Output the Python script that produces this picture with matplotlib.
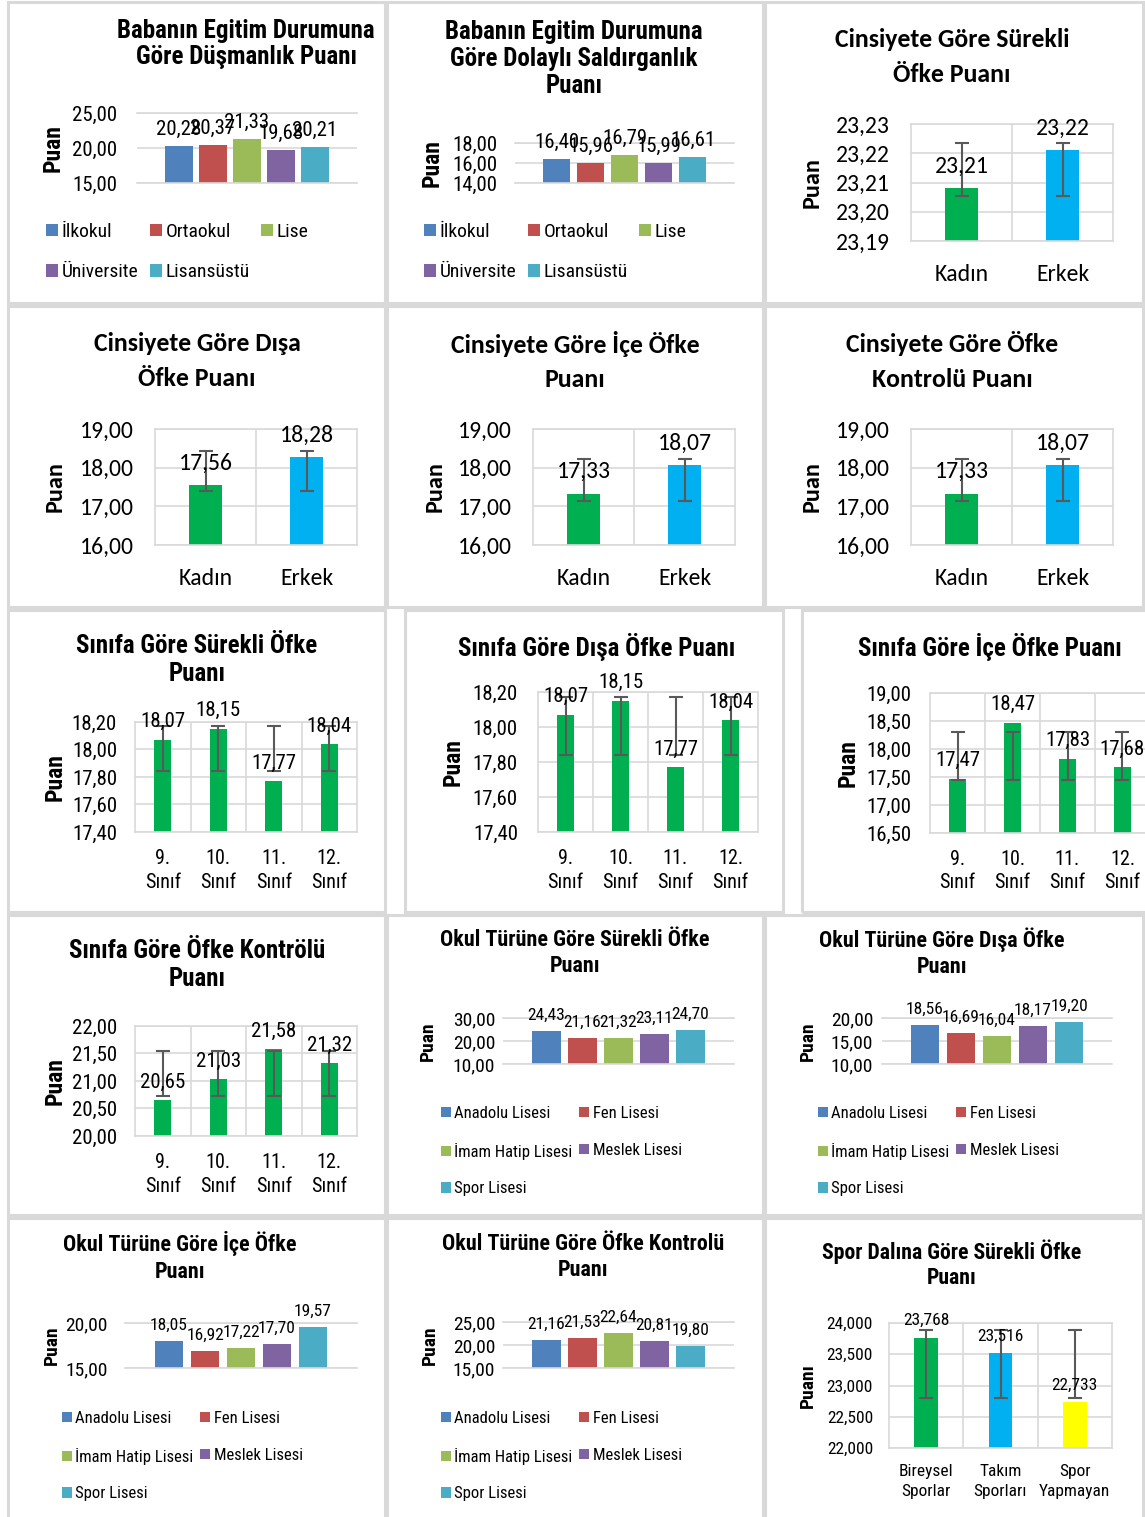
import matplotlib
matplotlib.use("Agg")
import matplotlib.pyplot as plt
import numpy as np
from matplotlib import font_manager
from matplotlib.patches import Rectangle
from matplotlib.ticker import FuncFormatter, MultipleLocator

# ---------------- data ----------------
egitim = ["İlkokul", "Ortaokul", "Lise", "Üniversite", "Lisansüstü"]
dusmanlik = [20.28, 20.37, 21.33, 19.68, 20.21]
dolayli = [16.40, 15.96, 16.79, 15.99, 16.61]

cinsiyet = ["Kadın", "Erkek"]
surekli_cins = [23.208, 23.221]
surekli_cins_err = (23.2055, 23.2235)   # low, high end of the error bars
disa_cins = [17.56, 18.28]
disa_cins_err = (17.40, 18.43)
ice_cins = [17.33, 18.07]
ice_cins_err = (17.15, 18.22)
kontrol_cins = [17.33, 18.07]
kontrol_cins_err = (17.15, 18.22)

sinif = ["9.\nSınıf", "10.\nSınıf", "11.\nSınıf", "12.\nSınıf"]
surekli_sinif = [18.07, 18.15, 17.77, 18.04]
surekli_sinif_err = (17.84, 18.17)
disa_sinif = [18.07, 18.15, 17.77, 18.04]
disa_sinif_err = (17.84, 18.17)
ice_sinif = [17.47, 18.47, 17.83, 17.68]
ice_sinif_err = (17.45, 18.30)
kontrol_sinif = [20.65, 21.03, 21.58, 21.32]
kontrol_sinif_err = (20.73, 21.55)

okul = ["Anadolu Lisesi", "Fen Lisesi", "İmam Hatip Lisesi", "Meslek Lisesi", "Spor Lisesi"]
surekli_okul = [24.43, 21.16, 21.32, 23.11, 24.70]
disa_okul = [18.56, 16.69, 16.04, 18.17, 19.20]
ice_okul = [18.05, 16.92, 17.22, 17.70, 19.57]
kontrol_okul = [21.16, 21.53, 22.64, 20.81, 19.80]

spor = ["Bireysel\nSporlar", "Takım\nSporları", "Spor\nYapmayan"]
surekli_spor = [23.768, 23.516, 22.733]
surekli_spor_err = (22.80, 23.89)

# ---------------- style ----------------
OFFICE = ["#4F81BD", "#C0504D", "#9BBB59", "#8064A2", "#4BACC6"]
GREEN, BLUE, YELLOW = "#00B050", "#00B0F0", "#FFFF00"
GRID = "#d9d9d9"
ERR = "#595959"

names = {f.name for f in font_manager.fontManager.ttflist}


def pick(prefs):
    for p in prefs:
        if p in names:
            return p
    return prefs[-1]


# Arial Narrow / Calibri look-alikes, with safe fallbacks
NARROW = pick(["Liberation Sans Narrow", "Roboto Condensed", "Archivo Narrow", "Liberation Sans"])
CAL = pick(["Carlito", "Lato"])

W, H = 1145, 1517
fig = plt.figure(figsize=(W / 100, H / 100), dpi=100)
fig.patch.set_facecolor("white")


def comma(v, nd=2):
    return f"{v:.{nd}f}".replace(".", ",")


def frame(x0, y0, x1, y1):
    fig.patches.append(Rectangle((x0 / W, 1 - y1 / H), (x1 - x0) / W, (y1 - y0) / H,
                                 transform=fig.transFigure, fill=False, ec=GRID, lw=2.2))


def title(x, y, s, fam, size, ls=1.2):
    fig.text(x / W, 1 - y / H, s, ha="center", va="center", fontsize=size,
             fontweight="bold", family=fam, linespacing=ls)


def make_axes(box, ylim, step, fam, tick, ypad, ylab_x, ylab="Puan", nd=2, ylab_size=None):
    x0, y0, x1, y1 = box
    ax = fig.add_axes([x0 / W, 1 - y1 / H, (x1 - x0) / W, (y1 - y0) / H])
    ax.set_ylim(*ylim)
    ax.yaxis.set_major_locator(MultipleLocator(step))
    ax.yaxis.set_major_formatter(FuncFormatter(lambda v, p: comma(v, nd)))
    ax.tick_params(length=0, labelsize=tick, labelfontfamily=fam)
    ax.tick_params(axis="y", pad=ypad * 0.72)
    ax.yaxis.grid(True, color=GRID, lw=1.2)
    ax.set_axisbelow(True)
    for s in ax.spines.values():
        s.set_color(GRID)
        s.set_linewidth(1.2)
    ax.set_ylabel(ylab, fontsize=ylab_size or tick, fontweight="bold", family=fam, va="center")
    ax.yaxis.set_label_coords((ylab_x - x0) / (x1 - x0), 0.5)
    return ax


def value_labels(ax, xs, vals, fam, size, off, nd=2):
    for x, v in zip(xs, vals):
        ax.annotate(comma(v, nd), (x, v), xytext=(0, off), textcoords="offset points",
                    ha="center", va="baseline", fontsize=size, family=fam)


def row_major(n, ncol):
    return [i for c in range(ncol) for i in range(c, n, ncol)]


def cluster_panel(box, cats, vals, ylim, step, pitch, fam, tick, leg, ypad, ylab_x,
                  leg_xy, ncol, colspace, labelspace, ylab_size=None, data=None):
    ax = make_axes(box, ylim, step, fam, tick, ypad, ylab_x, ylab_size=ylab_size)
    x0, y0, x1, y1 = box
    xs = np.arange(len(cats))
    half = (x1 - x0) / 2 / pitch
    ax.set_xlim(2 - half, 2 + half)
    bars = ax.bar(xs, vals, 0.8, color=OFFICE, zorder=2)
    ax.set_xticks([])
    ax.spines["left"].set_visible(False)
    ax.spines["right"].set_visible(False)
    value_labels(ax, xs, vals, fam, data or tick, 8)
    order = row_major(len(cats), ncol)
    ax.legend([bars[i] for i in order], [cats[i] for i in order], ncol=ncol,
              loc="upper left", bbox_to_anchor=(leg_xy[0] / W, 1 - leg_xy[1] / H),
              bbox_transform=fig.transFigure, frameon=False, borderpad=0,
              borderaxespad=0, handlelength=0.6, handleheight=0.6, handletextpad=0.2,
              columnspacing=colspace, labelspacing=labelspace,
              prop={"family": fam, "size": leg})
    return ax


def cat_panel(box, cats, vals, err, colors, ylim, step, fam, tick, xtick, ypad, xpad,
              ylab_x, width, ylab="Puan", nd=2, off=9, xls=1.2, ylab_size=None):
    ax = make_axes(box, ylim, step, fam, tick, ypad, ylab_x, ylab, nd, ylab_size)
    n = len(cats)
    xs = np.arange(n)
    ax.set_xlim(-0.5, n - 0.5)
    ax.bar(xs, vals, width, color=colors, zorder=2)
    mid = (err[0] + err[1]) / 2
    ax.errorbar(xs, [mid] * n, yerr=(err[1] - err[0]) / 2, fmt="none", ecolor=ERR,
                elinewidth=1.5, capsize=5, capthick=1.5, zorder=3)
    ax.set_xticks(xs, cats)
    ax.set_xticks(np.arange(0.5, n - 0.5, 1), minor=True)
    ax.xaxis.grid(True, which="minor", color=GRID, lw=1.2)
    ax.tick_params(axis="x", which="both", length=0, labelsize=xtick, pad=xpad * 0.72)
    for t in ax.get_xticklabels():
        t.set_linespacing(xls)
    value_labels(ax, xs, vals, fam, tick, off, nd)
    return ax


# ---------------- panel frames ----------------
for fb in [(8, 2, 385, 303), (387, 2, 763, 303), (765, 2, 1143, 303),
           (8, 306, 385, 607), (387, 306, 763, 607), (765, 306, 1143, 607),
           (8, 610, 385, 912), (405, 610, 783, 912), (802, 610, 1150, 912),
           (8, 915, 385, 1215), (387, 915, 763, 1215), (765, 915, 1143, 1215),
           (8, 1218, 385, 1520), (387, 1218, 763, 1520), (765, 1218, 1143, 1520)]:
    frame(*fb)

# ---------------- row 1 ----------------
title(246, 44, "Babanın Egitim Durumuna\nGöre Düşmanlık Puanı", NARROW, 18, 1.15)
cluster_panel((137, 113, 357, 183), egitim, dusmanlik, (15, 25), 5, 34, NARROW, 15, 14,
              20, 53, (46, 223), 3, 0.6, 1.15, ylab_size=17)

title(574, 59, "Babanın Egitim Durumuna\nGöre Dolaylı Saldırganlık\nPuanı", NARROW, 18, 1.15)
cluster_panel((515, 143, 734, 183), egitim, dolayli, (14, 18), 2, 34, NARROW, 15, 14,
              18, 432, (424, 223), 3, 0.6, 1.15, ylab_size=17)

title(952, 57, "Cinsiyete Göre Sürekli\nÖfke Puanı", CAL, 18.5, 1.6)
cat_panel((911, 124, 1113, 241), cinsiyet, surekli_cins, surekli_cins_err, [GREEN, BLUE],
          (23.19, 23.23), 0.01, CAL, 17, 17, 21, 23, 812, 0.32, off=11, ylab_size=17.5)

# ---------------- row 2 ----------------
title(197, 361, "Cinsiyete Göre Dışa\nÖfke Puanı", CAL, 18.5, 1.6)
cat_panel((155, 429, 357, 545), cinsiyet, disa_cins, disa_cins_err, [GREEN, BLUE],
          (16, 19), 1, CAL, 17, 17, 21, 23, 55, 0.32, off=11, ylab_size=17.5)

title(575, 361, "Cinsiyete Göre İçe Öfke\nPuanı", CAL, 18.5, 1.6)
cat_panel((533, 429, 735, 545), cinsiyet, ice_cins, ice_cins_err, [GREEN, BLUE],
          (16, 19), 1, CAL, 17, 17, 21, 23, 435, 0.32, off=11, ylab_size=17.5)

title(952, 361, "Cinsiyete Göre Öfke\nKontrolü Puanı", CAL, 18.5, 1.6)
cat_panel((911, 429, 1113, 545), cinsiyet, kontrol_cins, kontrol_cins_err, [GREEN, BLUE],
          (16, 19), 1, CAL, 17, 17, 21, 23, 812, 0.32, off=11, ylab_size=17.5)

# ---------------- row 3 ----------------
title(197, 660, "Sınıfa Göre Sürekli Öfke\nPuanı", NARROW, 18, 1.2)
cat_panel((135, 722, 357, 832), sinif, surekli_sinif, surekli_sinif_err, GREEN,
          (17.4, 18.2), 0.2, NARROW, 15, 14.5, 18, 17, 55, 0.3, xls=1.3, ylab_size=17)

title(597, 647, "Sınıfa Göre Dışa Öfke Puanı", NARROW, 18)
cat_panel((538, 692, 758, 832), sinif, disa_sinif, disa_sinif_err, GREEN,
          (17.4, 18.2), 0.2, NARROW, 15, 14.5, 20, 17, 453, 0.3, xls=1.3, ylab_size=17)

title(990, 647, "Sınıfa Göre İçe Öfke Puanı", NARROW, 18)
cat_panel((930, 693, 1150, 833), sinif, ice_sinif, ice_sinif_err, GREEN,
          (16.5, 19), 0.5, NARROW, 15, 14.5, 19, 17, 848, 0.32, xls=1.3, ylab_size=17)

# ---------------- row 4 ----------------
title(197, 965, "Sınıfa Göre Öfke Kontrölü\nPuanı", NARROW, 18, 1.2)
cat_panel((135, 1026, 357, 1136), sinif, kontrol_sinif, kontrol_sinif_err, GREEN,
          (20, 22), 0.5, NARROW, 15, 14.5, 18, 17, 55, 0.3, xls=1.3, ylab_size=17)

title(575, 953, "Okul Türüne Göre Sürekli Öfke\nPuanı", NARROW, 15.8, 1.25)
cluster_panel((503, 1018, 734, 1064), okul, surekli_okul, (10, 30), 10, 36, NARROW, 14, 12,
              8, 428, (441, 1106), 2, 0.4, 1.3, ylab_size=14, data=12.5)

title(942, 953, "Okul Türüne Göre Dışa Öfke\nPuanı", NARROW, 15.8, 1.25)
cluster_panel((882, 1018, 1112, 1064), okul, disa_okul, (10, 20), 5, 36, NARROW, 14, 12,
              9, 808, (818, 1106), 2, 0.4, 1.3, ylab_size=14, data=12.5)

# ---------------- row 5 ----------------
title(180, 1257, "Okul Türüne Göre İçe Öfke\nPuanı", NARROW, 15.8, 1.25)
cluster_panel((125, 1323, 357, 1368), okul, ice_okul, (15, 20), 5, 36, NARROW, 14, 12,
              17, 52, (62, 1411), 2, 0.4, 1.3, ylab_size=14, data=12.5)

title(583, 1257, "Okul Türüne Göre Öfke Kontrolü\nPuanı", NARROW, 15.8, 1.25)
cluster_panel((503, 1322, 734, 1368), okul, kontrol_okul, (15, 25), 5, 36, NARROW, 14, 12,
              8, 430, (441, 1411), 2, 0.4, 1.3, ylab_size=14, data=12.5)

title(952, 1264, "Spor Dalına Göre Sürekli Öfke\nPuanı", NARROW, 15.7, 1.15)
cat_panel((889, 1323, 1112, 1448), spor, surekli_spor, surekli_spor_err, [GREEN, BLUE, YELLOW],
          (22, 24), 0.5, NARROW, 12.5, 12.5, 16, 16, 808, 0.32, ylab="Puanı", nd=3,
          xls=1.4, ylab_size=14)

fig.savefig("out.png", dpi=100, facecolor="white")
